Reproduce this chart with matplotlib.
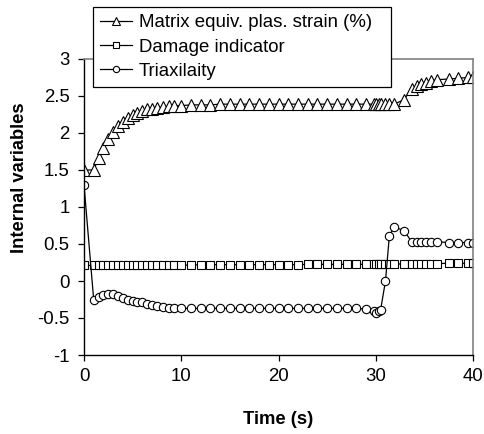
import matplotlib
matplotlib.use("Agg")
import matplotlib.pyplot as plt

# -----------------------------------------------
# data
# -----------------------------------------------
time = [0, 1, 1.5, 2, 2.5, 3, 3.5, 4, 4.5, 5, 5.5, 6, 6.5, 7, 7.5, 8.1, 8.7, 9.3,
        10, 11, 12, 13, 14, 15, 16, 17, 18, 19, 20, 21, 22, 23, 24, 25, 26, 27, 28, 29,
        29.8, 30, 30.3, 30.5, 31, 31.4, 31.9, 32.9,
        33.7, 34.2, 34.7, 35.2, 35.7, 36.3, 37.5, 38.5, 39.5, 40]

plas_strain = [1.5, 1.5, 1.66, 1.80, 1.92, 2.02, 2.09, 2.15, 2.20, 2.24, 2.27, 2.30, 2.32, 2.33, 2.34, 2.35, 2.36, 2.37,
               2.37, 2.38, 2.38, 2.38, 2.39, 2.39, 2.39, 2.39, 2.39, 2.39, 2.39, 2.39, 2.39, 2.39, 2.39, 2.39, 2.39, 2.39, 2.39, 2.39,
               2.39, 2.39, 2.39, 2.39, 2.39, 2.39, 2.39, 2.45,
               2.60, 2.63, 2.66, 2.68, 2.70, 2.72, 2.73, 2.74, 2.75, 2.75]

damage = [0.21, 0.21, 0.21, 0.21, 0.21, 0.21, 0.21, 0.215, 0.215, 0.215, 0.215, 0.215, 0.215, 0.215, 0.215, 0.215, 0.215, 0.215,
          0.215, 0.215, 0.22, 0.22, 0.22, 0.22, 0.22, 0.22, 0.22, 0.22, 0.22, 0.22, 0.22, 0.225, 0.225, 0.225, 0.225, 0.225, 0.225, 0.225,
          0.225, 0.225, 0.225, 0.225, 0.23, 0.23, 0.23, 0.23,
          0.235, 0.235, 0.235, 0.235, 0.235, 0.235, 0.24, 0.24, 0.24, 0.24]

triax = [1.3, -0.26, -0.21, -0.19, -0.18, -0.18, -0.20, -0.23, -0.25, -0.27, -0.28, -0.29, -0.31, -0.32, -0.34, -0.35, -0.36, -0.36,
         -0.37, -0.37, -0.37, -0.37, -0.37, -0.37, -0.37, -0.37, -0.37, -0.37, -0.37, -0.37, -0.37, -0.37, -0.37, -0.37, -0.37, -0.37, -0.37, -0.38,
         -0.41, -0.43, -0.41, -0.39, 0.0, 0.61, 0.73, 0.68,
         0.53, 0.53, 0.53, 0.53, 0.53, 0.53, 0.52, 0.52, 0.52, 0.52]

labels = ["Matrix equiv. plas. strain (%)", "Damage indicator", "Triaxilaity"]

# -----------------------------------------------
# plot
# -----------------------------------------------
plt.rcParams["font.family"] = ["Liberation Sans", "DejaVu Sans"]

fig = plt.figure(figsize=(4.84, 4.34), dpi=100)
ax = fig.add_axes([84 / 484, 1 - 355 / 434, (473 - 84) / 484, (355 - 59) / 434])

style = dict(color="black", lw=0.9, mfc="white", mec="black", mew=0.8)
ax.plot(time, plas_strain, marker="^", ms=8, label=labels[0], **style)
ax.plot(time, damage, marker="s", ms=6, label=labels[1], **style)
ax.plot(time, triax, marker="o", ms=6, label=labels[2], **style)

ax.set_xlim(0, 40)
ax.set_ylim(-1, 3)
ax.set_xticks([0, 10, 20, 30, 40])
ax.set_yticks([-1, -0.5, 0, 0.5, 1, 1.5, 2, 2.5, 3])
ax.set_yticklabels(["-1", "-0.5", "0", "0.5", "1", "1.5", "2", "2.5", "3"])
ax.tick_params(direction="out", length=4.5, width=0.9, labelsize=13.4)
ax.tick_params(axis="y", pad=6)
ax.tick_params(axis="x", pad=5)

for s in ["left", "bottom"]:
    ax.spines[s].set_color("black")
    ax.spines[s].set_linewidth(1.0)
for s in ["right", "top"]:
    ax.spines[s].set_color("#808080")
    ax.spines[s].set_linewidth(1.2)

ax.set_xlabel("Time (s)", fontsize=13.2, fontweight="bold", va="center")
ax.xaxis.set_label_coords(0.5, (355 - 420) / 296)
ax.set_ylabel("Internal variables", fontsize=13.2, fontweight="bold", va="center")
ax.yaxis.set_label_coords((20 - 84) / 389, (355 - 178) / 296)

# legend box: x 93..391 px, top at 7 px
leg = ax.legend(loc="upper left",
                bbox_to_anchor=(93 / 484, 1 - 87 / 434, (391 - 93) / 484, 80 / 434),
                bbox_transform=fig.transFigure, mode="expand", fontsize=13.4,
                fancybox=False, edgecolor="black", framealpha=1, handlelength=1.7,
                handletextpad=0.35, labelspacing=0.38, borderpad=0.4,
                borderaxespad=0, markerscale=0.75)
leg.get_frame().set_linewidth(0.9)

fig.savefig("out.png", dpi=100)
